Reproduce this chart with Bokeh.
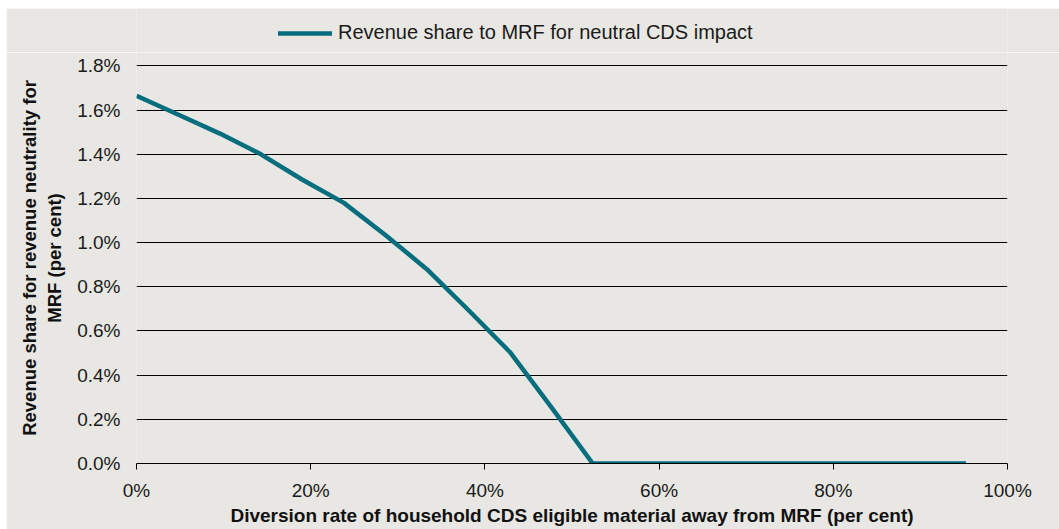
from bokeh.plotting import figure
from bokeh.layouts import column
from bokeh.models import (ColumnDataSource, FixedTicker, PrintfTickFormatter,
                          Legend, LegendItem, Range1d)
from bokeh.embed import file_html
from bokeh.resources import INLINE

# Data (percent)
diversion_rate = [0.0, 4.76, 9.52, 14.29, 19.05, 23.81, 28.57, 33.33, 38.10, 42.86,
                  47.62, 52.38, 57.14, 61.90, 66.67, 71.43, 76.19, 80.95, 85.71, 90.48, 95.24]
revenue_share = [1.665, 1.58, 1.495, 1.40, 1.285, 1.18, 1.035, 0.88, 0.695, 0.505,
                 0.255, 0.0, 0.0, 0.0, 0.0, 0.0, 0.0, 0.0, 0.0, 0.0, 0.0]
series_name = "Revenue share to MRF for neutral CDS impact"
x_ticks = [0, 20, 40, 60, 80, 100]
y_ticks = [0.0, 0.2, 0.4, 0.6, 0.8, 1.0, 1.2, 1.4, 1.6, 1.8]
x_title = "Diversion rate of household CDS eligible material away from MRF (per cent)"
y_title = "Revenue share for revenue neutrality for\nMRF (per cent)"

BG = "#E8E7E3"
TEAL = "#056E7E"
W = 1053

src = ColumnDataSource(dict(x=diversion_rate, y=revenue_share))

# ---- legend strip (top); its ranges show none of the data, only the legend ----
top = figure(width=W, height=44, output_backend="svg", toolbar_location=None,
             x_axis_location=None, y_axis_location=None,
             x_range=Range1d(200, 300), y_range=Range1d(200, 300),
             min_border=0)
top.background_fill_color = BG
top.border_fill_color = BG
top.outline_line_color = None
top.grid.visible = False
rl = top.line("x", "y", source=src, line_color=TEAL, line_width=4.5,
              line_cap="round")
legend = Legend(items=[LegendItem(label=series_name, renderers=[rl])],
                location=(142, 8), orientation="horizontal",
                background_fill_alpha=0, border_line_color=None,
                padding=0, margin=0, spacing=0,
                glyph_width=54, glyph_height=20, label_standoff=6,
                label_text_font="Liberation Sans", label_text_font_size="20px",
                label_text_color="#1a1a1a", label_height=20)
top.add_layout(legend)

# ---- main chart ----
p = figure(width=W, height=477, output_backend="svg", toolbar_location=None,
           x_range=Range1d(0, 100), y_range=Range1d(0, 1.861),
           min_border_left=130, min_border_right=52, min_border_top=0,
           min_border_bottom=66)
p.background_fill_color = BG
p.border_fill_color = BG
p.outline_line_color = None

p.line("x", "y", source=src, line_color=TEAL, line_width=4.5, line_join="round")

p.xaxis.ticker = FixedTicker(ticks=x_ticks)
p.xaxis.formatter = PrintfTickFormatter(format="%d%%")
p.yaxis.ticker = FixedTicker(ticks=y_ticks)
p.yaxis.formatter = PrintfTickFormatter(format="%.1f%%")

for ax in (p.xaxis[0], p.yaxis[0]):
    ax.major_label_text_font = "Liberation Sans"
    ax.major_label_text_font_size = "19px"
    ax.major_label_text_color = "#1a1a1a"
    ax.minor_tick_line_color = None
    ax.axis_label_text_font = "Liberation Sans"
    ax.axis_label_text_font_style = "bold"
    ax.axis_label_text_color = "#111111"

p.xaxis.axis_label = x_title
p.xaxis.axis_label_text_font_size = "19px"
p.xaxis.axis_line_color = "black"
p.xaxis.axis_line_width = 1.2
p.xaxis.major_tick_line_color = "black"
p.xaxis.major_tick_in = 0
p.xaxis.major_tick_out = 6
p.xaxis.major_label_standoff = 10
p.xaxis.axis_label_standoff = 1

p.yaxis.axis_label = y_title
p.yaxis.axis_label_text_font_size = "18.5px"
p.yaxis.axis_line_color = None
p.yaxis.major_tick_line_color = None
p.yaxis.major_tick_in = 0
p.yaxis.major_tick_out = 0
p.yaxis.major_label_standoff = 16
p.yaxis.axis_label_standoff = 9

p.xgrid.grid_line_color = None
p.ygrid.grid_line_color = "black"
p.ygrid.grid_line_width = 1.2

layout = column(top, p, spacing=0, margin=(8, 0, 0, 6))

open("out.html", "w").write(file_html(layout, INLINE))
